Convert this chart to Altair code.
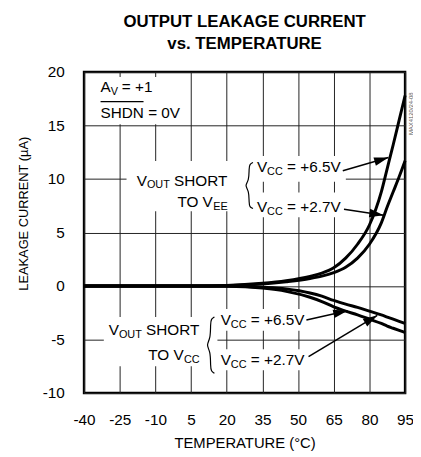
import math
import altair as alt
import pandas as pd

FONT = "Liberation Sans"

# ---------------- data ----------------
temps = [-40, -25, -10, 5, 20, 35, 45, 55, 60, 65, 70, 75, 80, 85, 87.5, 90, 92.5, 95]
src_vcc65 = [0, 0, 0, 0, 0.05, 0.25, 0.5, 0.9, 1.2, 1.7, 2.6, 3.9, 5.7, 8.8, 11.0, 13.2, 15.5, 17.8]
src_vcc27 = [0, 0, 0, 0, 0.03, 0.18, 0.4, 0.7, 0.92, 1.25, 1.75, 2.6, 3.9, 5.9, 7.4, 8.8, 10.2, 11.7]
sink_vcc65 = [0, 0, 0, 0, -0.02, -0.2, -0.5, -1.05, -1.45, -1.95, -2.35, -2.7, -3.1, -3.5, -3.75, -3.95, -4.15, -4.35]
sink_vcc27 = [0, 0, 0, 0, 0, -0.12, -0.28, -0.65, -0.95, -1.35, -1.7, -2.0, -2.35, -2.7, -2.9, -3.1, -3.3, -3.5]

x_ticks = [-40, -25, -10, 5, 20, 35, 50, 65, 80, 95]
y_ticks = [-10, -5, 0, 5, 10, 15, 20]
x_domain = [-40, 95]
y_domain = [-10, 20]

W, H = 325, 325
DT = (x_domain[1] - x_domain[0]) / W   # degC per px
DV = (y_domain[1] - y_domain[0]) / H   # uA per px

rows = []
for name, vals in [("src65", src_vcc65), ("src27", src_vcc27),
                   ("sink65", sink_vcc65), ("sink27", sink_vcc27)]:
    for t, v in zip(temps, vals):
        rows.append({"temp": t, "cur": v, "series": name})
df_curves = pd.DataFrame(rows)

# ---------------- annotations (data units) ----------------
M, S = 15.5, 11   # main / subscript font sizes
labels = [
    (-33.06, 18.16, [("A", 0, 0, M), ("V", 10.3, 3, S), ("= +1", 21.5, 0, M)]),
    (-33.06, 15.66, [("SHDN = 0V", 0, 0, M)]),
    (-17.86, 9.39, [("V", 0, 0, M), ("OUT", 10.3, 3, S), ("SHORT", 37.8, 0, M)]),
    (-0.75, 7.38, [("TO V", 0, 0, M), ("EE", 36.2, 3, S)]),
    (32.69, 10.61, [("V", 0, 0, M), ("CC", 10.3, 3, S), ("= +6.5V", 30.5, 0, M)]),
    (32.69, 6.92, [("V", 0, 0, M), ("CC", 10.3, 3, S), ("= +2.7V", 30.5, 0, M)]),
    (-29.62, -4.62, [("V", 0, 0, M), ("OUT", 10.3, 3, S), ("SHORT", 37.8, 0, M)]),
    (-13.0, -6.93, [("TO V", 0, 0, M), ("CC", 36.2, 3, S)]),
    (17.45, -3.69, [("V", 0, 0, M), ("CC", 10.3, 3, S), ("= +6.5V", 30.5, 0, M)]),
    (17.45, -7.38, [("V", 0, 0, M), ("CC", 10.3, 3, S), ("= +2.7V", 30.5, 0, M)]),
]
trows = []
for at, av, pieces in labels:
    for txt, dx, dy, sz in pieces:
        trows.append({"t": at + dx * DT, "v": av - dy * DV, "text": txt, "size": sz})
df_text = pd.DataFrame(trows)

# overline over SHDN
df_over = pd.DataFrame([{"t1": -33.06, "t2": -33.06 + 43.5 * DT, "v": 17.23}])

# white boxes behind text (grid gaps)
boxes = [
    (-37.09, 3.62, 19.54, 15.11),
    (-22.14, 31.86, 11.69, 6.98),
    (31.03, 70.08, 12.15, 9.75),
    (31.03, 70.08, 8.74, 6.43),
    (-31.69, 16.08, -2.89, -7.51),
    (16.08, 53.88, -2.15, -4.18),
    (16.08, 53.88, -5.92, -7.88),
]
df_boxes = pd.DataFrame([{"t1": a, "t2": b, "v1": c, "v2": d} for a, b, c, d in boxes])

# braces: (center T, center V, half-height px)
braces = [(29.37, 9.385, 23.3), (13.17, -5.52, 28.5)]
brace_shape = [(4, -1), (0.6, -0.93), (0, -0.75), (0, -0.22), (-4.5, 0),
               (0, 0.22), (0, 0.75), (0.6, 0.93), (4, 1)]
brows = []
for i, (ct, cv, hh) in enumerate(braces):
    for k, (px, fy) in enumerate(brace_shape):
        brows.append({"t": ct + px * DT, "v": cv - fy * hh * DV, "b": i, "k": k})
df_brace = pd.DataFrame(brows)

# arrows: start -> tip
arrows = [
    ((68.8, 10.77), (88.0, 12.0)),
    ((69.3, 7.17), (86.0, 6.62)),
    ((53.5, -3.17), (70.8, -2.31)),
    ((54.4, -6.61), (83.3, -2.75)),
]
arows = []
for (t0, v0), (t1, v1) in arrows:
    dxp = (t1 - t0) / DT
    dyp = -(v1 - v0) / DV
    ang = math.degrees(math.atan2(dxp, -dyp)) % 360
    arows.append({"t0": t0, "v0": v0, "t1": t1, "v1": v1, "ang": ang})
df_arrows = pd.DataFrame(arows)

df_mark = pd.DataFrame([{"t": 97.3, "v": 16.1, "text": "MAX4120/24-08"}])

# ---------------- chart ----------------
xs = alt.Scale(domain=x_domain, nice=False, zero=False)
ys = alt.Scale(domain=y_domain, nice=False, zero=False)

x_axis = alt.Axis(values=x_ticks, title="TEMPERATURE (°C)", grid=True, ticks=False,
                  tickSize=0, domain=False, labelFont=FONT, labelFontSize=15.5,
                  labelExpr="datum.value + ''",
                  labelColor="black", labelPadding=32, labelBaseline="alphabetic",
                  labelFlush=False, titleFont=FONT, titleFontSize=15,
                  titleFontWeight="normal", titleColor="black", titleY=55,
                  titleBaseline="alphabetic", gridColor="#222222", gridWidth=1,
                  gridOpacity=1)
y_axis = alt.Axis(values=y_ticks, title="LEAKAGE CURRENT (µA)", grid=True, ticks=False,
                  tickSize=0, domain=False, labelFont=FONT, labelFontSize=15.5,
                  labelExpr="datum.value + ''",
                  labelColor="black", labelPadding=20, labelBaseline="middle",
                  labelFlush=False, titleFont=FONT, titleFontSize=13,
                  titleFontWeight="normal", titleColor="black", titleX=-57,
                  titleY=143, titleBaseline="alphabetic", titleAngle=270,
                  gridColor="#222222", gridWidth=1, gridOpacity=1)


def X(f):
    return alt.X(f, type="quantitative", scale=xs, axis=x_axis)


def Y(f):
    return alt.Y(f, type="quantitative", scale=ys, axis=y_axis)


box_layer = alt.Chart(df_boxes).mark_rect(color="white").encode(
    x=X("t1"), x2="t2:Q", y=Y("v1"), y2="v2:Q",
)

curve_layer = alt.Chart(df_curves).mark_line(
    color="black", strokeWidth=3, interpolate="monotone"
).encode(x=X("temp"), y=Y("cur"), detail="series:N")

brace_layer = alt.Chart(df_brace).mark_line(
    color="black", strokeWidth=1.2, interpolate="basis"
).encode(x=X("t"), y=Y("v"), detail="b:N", order="k:Q")

arrow_lines = alt.Chart(df_arrows).mark_rule(color="black", strokeWidth=1.5).encode(
    x=X("t0"), y=Y("v0"), x2="t1:Q", y2="v1:Q",
)

arrow_heads = alt.Chart(df_arrows).mark_point(
    shape="M0,0 L0.6,2 L-0.6,2 Z", filled=True, color="black", opacity=1,
    size=210, strokeWidth=0
).encode(x=X("t1"), y=Y("v1"), angle=alt.Angle("ang:Q", scale=None))

text_layer = alt.Chart(df_text).mark_text(
    align="left", baseline="alphabetic", font=FONT, color="black"
).encode(
    x=X("t"), y=Y("v"), text="text:N", size=alt.Size("size:Q", scale=None),
)

over_layer = alt.Chart(df_over).mark_rule(color="black", strokeWidth=1.2).encode(
    x=X("t1"), x2="t2:Q", y=Y("v"),
)

mark_layer = alt.Chart(df_mark).mark_text(
    angle=270, font=FONT, fontSize=6, color="#555555", align="center",
    baseline="middle"
).encode(x=X("t"), y=Y("v"), text="text:N")

chart = alt.layer(
    box_layer, curve_layer, brace_layer, arrow_lines, arrow_heads,
    text_layer, over_layer, mark_layer
).properties(
    width=W, height=H,
    title=alt.TitleParams(
        text=["OUTPUT LEAKAGE CURRENT", "vs. TEMPERATURE"],
        font=FONT, fontSize=17, fontWeight="bold", color="black",
        anchor="middle", baseline="bottom", lineHeight=23, offset=-5,
    ),
    autosize=alt.AutoSizeParams(type="none"),
    padding={"left": 77, "top": 62, "right": 8, "bottom": 60},
).configure_view(
    stroke="black", strokeWidth=2.5
)

chart.save("out.html", embed_options={"renderer": "svg", "actions": False})
